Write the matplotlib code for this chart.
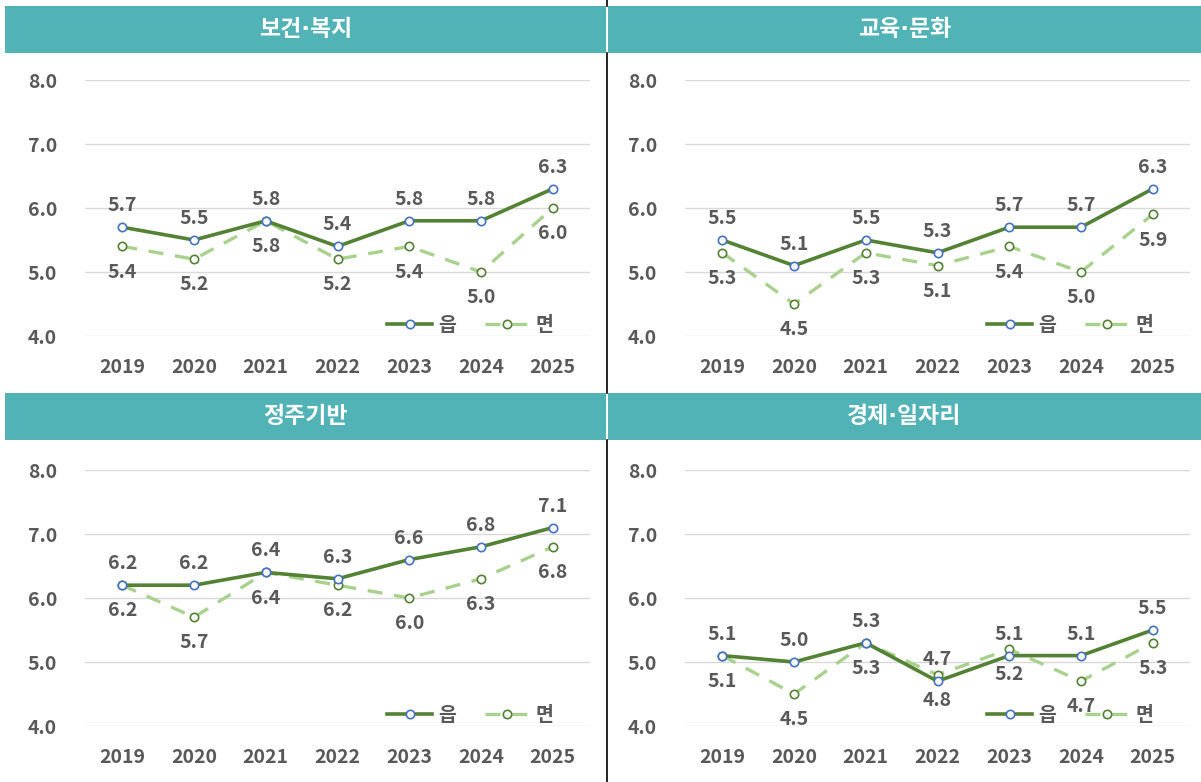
import matplotlib
matplotlib.use("Agg")
import matplotlib.pyplot as plt
from matplotlib.patches import Rectangle
from matplotlib.lines import Line2D

plt.rcParams['font.family'] = ['Noto Sans CJK KR', 'DejaVu Sans']

years = ["2019", "2020", "2021", "2022", "2023", "2024", "2025"]
titles = ["보건·복지", "교육·문화", "정주기반", "경제·일자리"]
series_names = ["읍", "면"]

eup_health = [5.7, 5.5, 5.8, 5.4, 5.8, 5.8, 6.3]
myeon_health = [5.4, 5.2, 5.8, 5.2, 5.4, 5.0, 6.0]
eup_edu = [5.5, 5.1, 5.5, 5.3, 5.7, 5.7, 6.3]
myeon_edu = [5.3, 4.5, 5.3, 5.1, 5.4, 5.0, 5.9]
eup_infra = [6.2, 6.2, 6.4, 6.3, 6.6, 6.8, 7.1]
myeon_infra = [6.2, 5.7, 6.4, 6.2, 6.0, 6.3, 6.8]
eup_econ = [5.1, 5.0, 5.3, 4.7, 5.1, 5.1, 5.5]
myeon_econ = [5.1, 4.5, 5.3, 4.8, 5.2, 4.7, 5.3]

yticks = [4.0, 5.0, 6.0, 7.0, 8.0]

panels = [
    (titles[0], eup_health, myeon_health),
    (titles[1], eup_edu, myeon_edu),
    (titles[2], eup_infra, myeon_infra),
    (titles[3], eup_econ, myeon_econ),
]

W, H = 1201, 782
fig = plt.figure(figsize=(W / 100, H / 100), dpi=100)
fig.patch.set_facecolor("white")

TEAL = "#52B3B6"
DARK = "#548235"
LIGHT = "#A9D18E"
BLUE = "#4472C4"
TXT = "#595959"
GRID = "#D9D9D9"
FS = 14

def fx(px):
    return px / W

def fy(py):
    return 1 - py / H

# vertical divider
for y0, y1 in [(0, 6), (53, 393), (440, 782)]:
    fig.add_artist(Line2D([fx(606.5), fx(606.5)], [fy(y0), fy(y1)], color="black", lw=1.2))

cols = [(85, 590, 5, 605.5), (685, 1190, 607.5, 1201)]
rows = [(80, 336, 6, 53), (470, 726, 393, 440)]

for idx, (title, eup, myeon) in enumerate(panels):
    r, c = divmod(idx, 2)
    axl, axr, hl, hr = cols[c]
    att, atb, ht, hb = rows[r]
    fig.add_artist(Rectangle((fx(hl), fy(hb)), fx(hr) - fx(hl), fy(ht) - fy(hb),
                             transform=fig.transFigure, facecolor=TEAL, edgecolor="none"))
    fig.text((fx(hl) + fx(hr)) / 2, (fy(ht) + fy(hb)) / 2, title, color="white",
             fontsize=16.5, fontweight="bold", ha="center", va="center",
             family=['DejaVu Sans', 'Noto Sans CJK KR'])

    ax = fig.add_axes([fx(axl), fy(atb), fx(axr) - fx(axl), fy(att) - fy(atb)])
    x = list(range(len(years)))
    ax.plot(x, eup, color=DARK, lw=2.6, marker="o", markersize=6,
            markerfacecolor="white", markeredgecolor=BLUE, markeredgewidth=1.2,
            label=series_names[0], zorder=4, clip_on=False)
    ax.plot(x, myeon, color=LIGHT, lw=2.4, ls=(0, (4.5, 3.5)), marker="o", markersize=6,
            markerfacecolor="white", markeredgecolor=DARK, markeredgewidth=1.2,
            label=series_names[1], zorder=3, clip_on=False)
    for xi, v in zip(x, eup):
        ax.annotate(f"{v:.1f}", (xi, v), xytext=(0, 15.5), textcoords="offset points",
                    ha="center", va="center", fontsize=FS, fontweight="bold", color=TXT)
    for xi, v in zip(x, myeon):
        ax.annotate(f"{v:.1f}", (xi, v), xytext=(0, -18.5), textcoords="offset points",
                    ha="center", va="center", fontsize=FS, fontweight="bold", color=TXT)

    ax.set_xlim(-0.52, 6.52)
    ax.set_ylim(4.0, 8.0)
    ax.set_yticks(yticks)
    ax.set_yticklabels([f"{t:.1f}" for t in yticks])
    ax.set_xticks(x)
    ax.set_xticklabels(years)
    for s in ax.spines.values():
        s.set_visible(False)
    ax.grid(axis="y", color=GRID, lw=1.0)
    ax.set_axisbelow(True)
    ax.tick_params(axis="both", length=0, labelsize=FS, labelcolor=TXT)
    ax.tick_params(axis="x", pad=16)
    ax.tick_params(axis="y", pad=20)
    for lab in ax.get_xticklabels() + ax.get_yticklabels():
        lab.set_fontweight("bold")
    ax.set_facecolor("none")

    leg = ax.legend(loc="center right", bbox_to_anchor=(0.962, 0.04), ncol=2, frameon=False,
                    handlelength=2.3, columnspacing=1.5, handletextpad=0.3,
                    prop={"size": FS, "weight": "bold"}, numpoints=1)
    for t in leg.get_texts():
        t.set_color(TXT)

fig.savefig("out.png", dpi=100, facecolor="white")
